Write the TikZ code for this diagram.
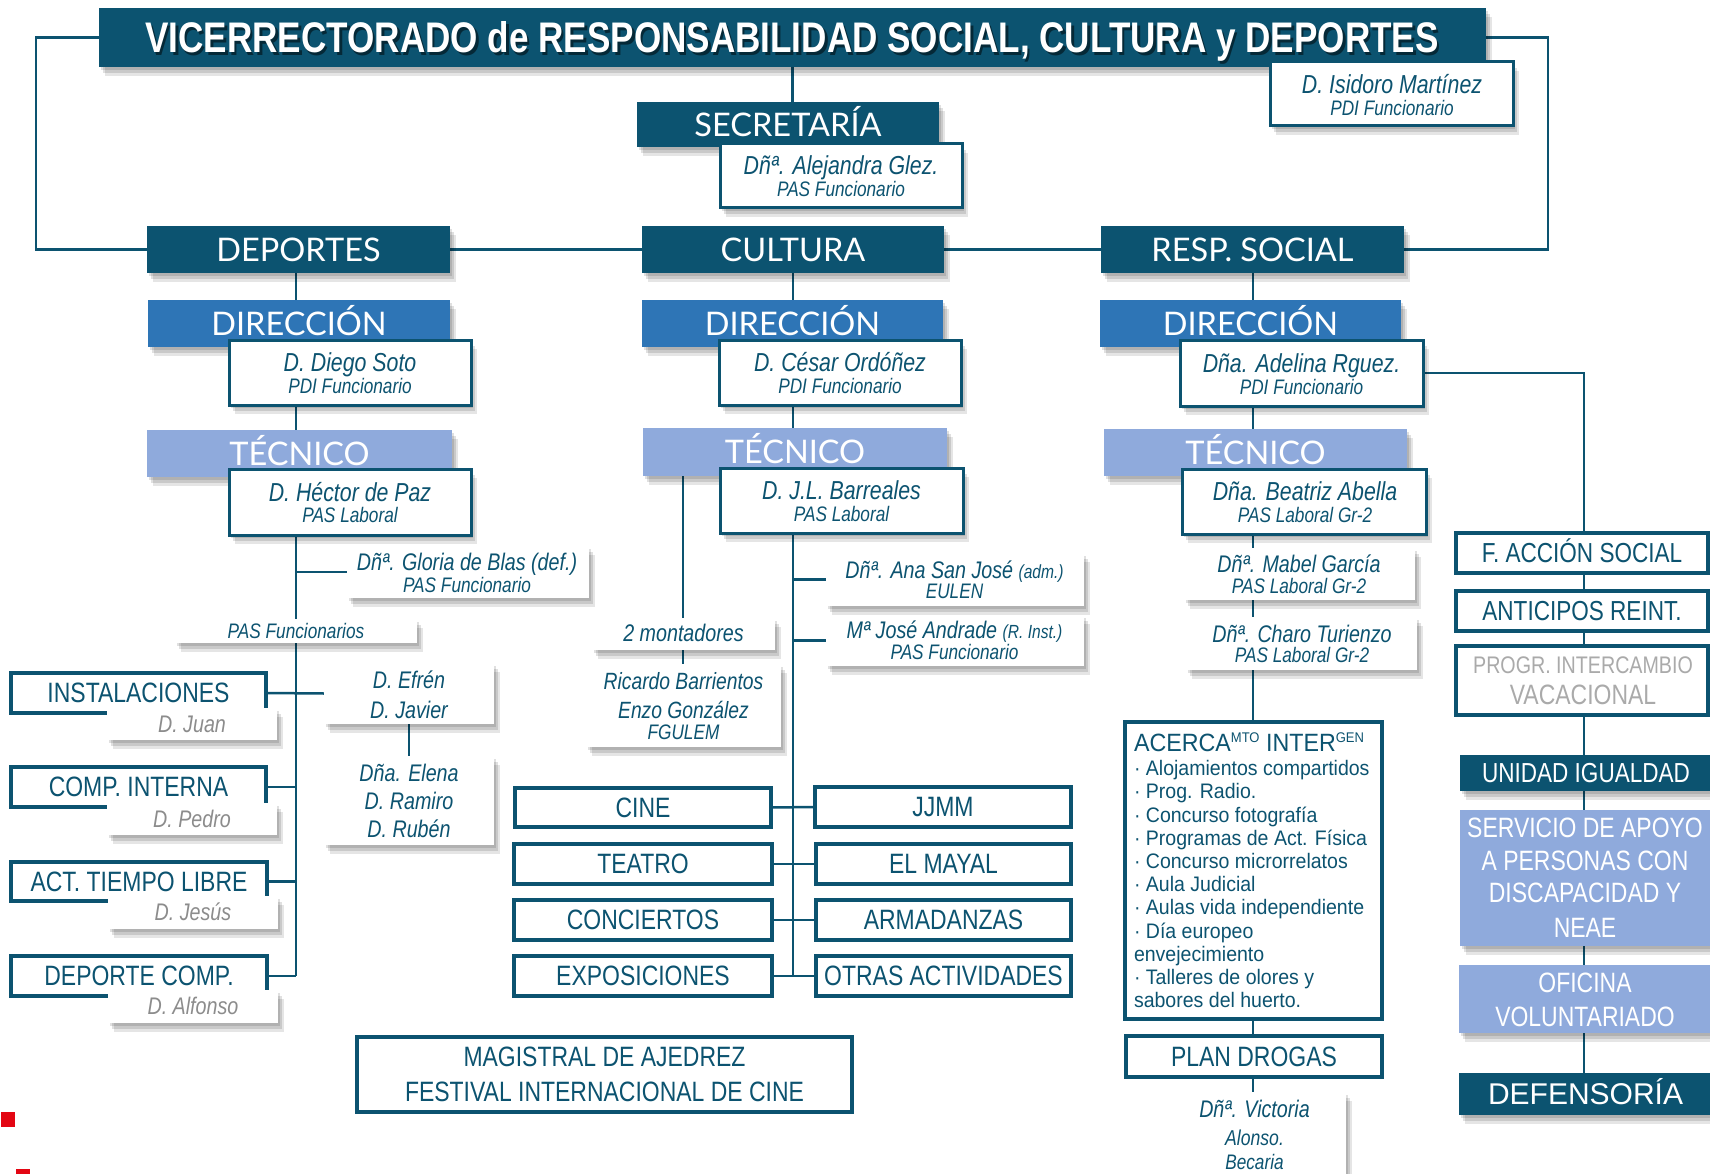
\documentclass[tikz,border=0pt]{standalone}
\usepackage{fontspec}
\setmainfont{Liberation Sans}
\newfontfamily\nar{Liberation Sans}[FakeStretch=0.82]
\newfontfamily\semi{Liberation Sans}[FakeStretch=0.93]
\newfontfamily\hdrf{Lato}
\usetikzlibrary{shadows}
\definecolor{dk}{RGB}{12,83,112}
\definecolor{mid}{RGB}{46,117,182}
\definecolor{lt}{RGB}{143,170,220}
\definecolor{gtx}{RGB}{140,140,140}
\definecolor{gtx2}{RGB}{170,170,170}
\definecolor{red1}{RGB}{227,6,19}
\pgfdeclarelayer{bg}
\pgfsetlayers{bg,main}
\tikzset{
  conn/.style={draw=dk, line width=2.5pt},
  shad/.style={drop shadow={shadow xshift=2pt, shadow yshift=-3pt, fill=black, opacity=0.12},
               drop shadow={shadow xshift=4pt, shadow yshift=-6pt, fill=black, opacity=0.12},
               drop shadow={shadow xshift=6pt, shadow yshift=-9pt, fill=black, opacity=0.10}},
  bx/.style 2 args={minimum width=#1pt, minimum height=#2pt, inner sep=0pt, outer sep=0pt},
  tx/.style={inner sep=0pt, outer sep=0pt, text=dk, text depth=0pt},
  nm/.style={tx, font=\nar\itshape\fontsize{26}{26}\selectfont, text height=17.9pt},
  st/.style={tx, font=\nar\itshape\fontsize{24}{24}\selectfont, text height=16.5pt},
  sb/.style={tx, font=\nar\itshape\fontsize{21}{21}\selectfont, text height=14.4pt},
  gy/.style={st, text=gtx},
  it/.style={tx, font=\nar\fontsize{28}{28}\selectfont, text height=19.3pt},
  wt/.style={it, text=white},
  hdr/.style={fill=dk, text=white, font=\hdrf\fontsize{32.5}{32.5}\selectfont, text height=23.3pt, text depth=0pt, shad},
  dirbox/.style={hdr, fill=mid},
  tecbox/.style={hdr, fill=lt},
  pbox/.style={fill=white, draw=dk, line width=3pt, shad},
  sbox/.style={fill=white, shad},
  ibox/.style={fill=white, draw=dk, line width=3.5pt, it},
}
\begin{document}
\begin{tikzpicture}[x=1pt,y=-1pt]
\useasboundingbox (0,0) rectangle (1710,1174);
\clip (0,0) rectangle (1710,1174);

\coordinate (cxD) at (296,0);
\coordinate (cxC) at (793,0);
\coordinate (cxR) at (1253,0);
\coordinate (cxM) at (683,0);
\coordinate (cxS) at (1584,0);
\coordinate (lbx) at (36,0);
\coordinate (rbx) at (1548,0);

% ---------- title
\node[bx={1387}{59}, fill=dk, shad] (title) at (792.5,37.5) {};
\node[tx, text=black, opacity=0.5, font=\nar\bfseries\fontsize{42.8}{42.8}\selectfont, text height=29.4pt] (titsh) at (794.5,40.5) {VICERRECTORADO de RESPONSABILIDAD SOCIAL, CULTURA y DEPORTES};
\node[tx, text=white, font=\nar\bfseries\fontsize{42.8}{42.8}\selectfont, text height=29.4pt] (tittx) at (792,38.3) {VICERRECTORADO de RESPONSABILIDAD SOCIAL, CULTURA y DEPORTES};

\node[bx={243}{64}, pbox] (isid) at (1391.5,94) {};
\node[nm] (isid1) at (1392,85) {D. Isidoro Martínez};
\node[sb] (isid2) at (1392,108.5) {PDI Funcionario};

\node[bx={302}{45}, hdr] (secr) at (788,124.5) {SECRETARÍA};
\node[bx={242}{64}, pbox] (alej) at (841,176) {};
\node[nm] (alej1) at (841,166) {Dñª. Alejandra Glez.};
\node[sb] (alej2) at (841,189.5) {PAS Funcionario};

% ---------- main areas
\node[bx={303}{47}, hdr] (dep) at (298.5,249.5) {DEPORTES};
\node[bx={302}{47}, hdr] (cul) at (793,249.5) {CULTURA};
\node[bx={303}{47}, hdr] (resp) at (1252.5,249.5) {RESP. SOCIAL};

\node[bx={302}{47}, dirbox] (depdir) at (299,323.5) {DIRECCIÓN};
\node[bx={301}{47}, dirbox] (culdir) at (792.5,323.5) {DIRECCIÓN};
\node[bx={301}{47}, dirbox] (resdir) at (1250.5,323.5) {DIRECCIÓN};

\node[bx={242}{65}, pbox] (diego) at (350,372.5) {};
\node[nm] (diego1) at (350,363) {D. Diego Soto};
\node[sb] (diego2) at (350,386.5) {PDI Funcionario};
\node[bx={242}{65}, pbox] (cesar) at (840,372.5) {};
\node[nm] (cesar1) at (840,363) {D. César Ordóñez};
\node[sb] (cesar2) at (840,386.5) {PDI Funcionario};
\node[bx={243}{66}, pbox] (adelina) at (1301.5,373) {};
\node[nm] (adel1) at (1301.5,364) {Dña. Adelina Rguez.};
\node[sb] (adel2) at (1301.5,387.5) {PDI Funcionario};

\node[bx={305}{47}, tecbox] (deptec) at (299.5,453.5) {TÉCNICO};
\node[bx={304}{48}, tecbox] (cultec) at (795,452) {TÉCNICO};
\node[bx={303}{47}, tecbox] (restec) at (1255.5,452.5) {TÉCNICO};

\node[bx={242}{66}, pbox] (hector) at (350,502) {};
\node[nm] (hect1) at (350,492.5) {D. Héctor de Paz};
\node[sb] (hect2) at (350,515.5) {PAS Laboral};
\node[bx={243}{65}, pbox] (barreales) at (841.5,500.5) {};
\node[nm] (barr1) at (841.5,491) {D. J.L. Barreales};
\node[sb] (barr2) at (841.5,514.5) {PAS Laboral};
\node[bx={244}{65}, pbox] (beatriz) at (1304,501.5) {};
\node[nm] (beat1) at (1305,492) {Dña. Beatriz Abella};
\node[sb] (beat2) at (1305,515.5) {PAS Laboral Gr-2};

% ---------- deportes column
\node[bx={242}{52}, sbox] (gloria) at (468,572) {};
\node[st] (glo1) at (467,562.5) {Dñª. Gloria de Blas (def.)};
\node[sb] (glo2) at (467,585) {PAS Funcionario};
\node[bx={242}{24}, sbox, sb] (pasf) at (296,631) {PAS Funcionarios};

\node[bx={255}{40}, ibox] (instal) at (138.5,693) {INSTALACIONES};
\node[bx={170}{32}, sbox, gy] (juan) at (192,724) {D. Juan};
\node[bx={255}{40}, ibox] (compint) at (138.5,787) {COMP. INTERNA};
\node[bx={170}{32}, sbox, gy] (pedro) at (192,819) {D. Pedro};
\node[bx={256}{39}, ibox] (actl) at (139,881.5) {ACT. TIEMPO LIBRE};
\node[bx={170}{33}, sbox, gy] (jesus) at (193,912) {D. Jesús};
\node[bx={256}{40}, ibox] (depcomp) at (139,976) {DEPORTE COMP.};
\node[bx={170}{33}, sbox, gy] (alfonso) at (193,1006) {D. Alfonso};

\node[bx={170}{61}, sbox] (efren) at (409,693.5) {};
\node[st] (efr1) at (409,680.5) {D. Efrén};
\node[st] (efr2) at (409,710) {D. Javier};
\node[bx={170}{89}, sbox] (elena) at (409,800.5) {};
\node[st] (ele1) at (409,773) {Dña. Elena};
\node[st] (ele2) at (409,801.5) {D. Ramiro};
\node[st] (ele3) at (409,829.5) {D. Rubén};

\node[bx={495}{75}, ibox] (magis) at (604.5,1074.5) {};
\node[it] (mag1) at (604.5,1057) {MAGISTRAL DE AJEDREZ};
\node[it] (mag2) at (604.5,1092) {FESTIVAL INTERNACIONAL DE CINE};

% ---------- cultura column
\node[bx={183}{32}, sbox, st] (mont) at (683.5,633.5) {2 montadores};
\node[bx={195}{83}, sbox] (ricardo) at (683.5,705.5) {};
\node[st, font=\nar\itshape\fontsize{23.5}{23.5}\selectfont] (ric1) at (683.5,681) {Ricardo Barrientos};
\node[st, font=\nar\itshape\fontsize{23.5}{23.5}\selectfont] (ric2) at (683.5,710) {Enzo González};
\node[sb] (ric3) at (683.5,732) {FGULEM};

\node[bx={258}{53}, sbox] (ana) at (955,579.5) {};
\node[st] (ana1) at (954.5,570) {Dñª. Ana San José {\fontsize{19}{19}\selectfont(adm.)}};
\node[sb] (ana2) at (954.5,591.5) {EULEN};
\node[bx={258}{51}, sbox] (andrade) at (955,640.5) {};
\node[st] (and1) at (954.5,630) {Mª José Andrade {\fontsize{19}{19}\selectfont(R. Inst.)}};
\node[sb] (and2) at (954.5,652.5) {PAS Funcionario};

\node[bx={256}{39}, ibox] (cine) at (643,807.5) {CINE};
\node[bx={256}{40}, ibox] (jjmm) at (943,807) {JJMM};
\node[bx={258}{40}, ibox] (teatro) at (643,864) {TEATRO};
\node[bx={255}{40}, ibox] (mayal) at (943.5,864) {EL MAYAL};
\node[bx={258}{40}, ibox] (conc) at (643,920) {CONCIERTOS};
\node[bx={255}{40}, ibox] (armad) at (943.5,920) {ARMADANZAS};
\node[bx={258}{40}, ibox] (expo) at (643,976) {EXPOSICIONES};
\node[bx={255}{40}, ibox] (otras) at (943.5,976) {OTRAS ACTIVIDADES};

% ---------- resp. social column
\node[bx={231}{52}, sbox] (mabel) at (1299.5,574) {};
\node[st] (mab1) at (1299,564.5) {Dñª. Mabel García};
\node[sb] (mab2) at (1299,586.5) {PAS Laboral Gr-2};
\node[bx={231}{53}, sbox] (charo) at (1301.5,643.5) {};
\node[st] (cha1) at (1302,634) {Dñª. Charo Turienzo};
\node[sb] (cha2) at (1302,655.5) {PAS Laboral Gr-2};

\node[bx={257}{297}, ibox] (acerca) at (1253.5,870.5) {};
\node[inner sep=0pt, outer sep=0pt, anchor=north west, align=left, text=dk, font=\semi\fontsize{21}{23.2}\selectfont] (acertxt) at (1134,732.5)
 {{\fontsize{25}{25}\selectfont ACERCA\raisebox{9pt}{\fontsize{14}{14}\selectfont MTO} INTER\raisebox{9pt}{\fontsize{14}{14}\selectfont GEN}}\\[1.3pt]
  · Alojamientos compartidos\\
  · Prog. Radio.\\
  · Concurso fotografía\\
  · Programas de Act. Física\\
  · Concurso microrrelatos\\
  · Aula Judicial\\
  · Aulas vida independiente\\
  · Día europeo\\
  envejecimiento\\
  · Talleres de olores y\\
  sabores del huerto.};

\node[bx={256}{41}, ibox] (plan) at (1254,1056.5) {PLAN DROGAS};
\node[bx={182}{108}, sbox] (victoria) at (1255,1146) {};
\node[st] (vic1) at (1254.5,1109) {Dñª. Victoria};
\node[sb, font=\nar\itshape\fontsize{21.5}{21.5}\selectfont] (vic2) at (1254.5,1138) {Alonso.};
\node[sb] (vic3) at (1254.5,1162) {Becaria};

% ---------- right column
\node[bx={252}{40}, ibox, font=\nar\fontsize{27.5}{27.5}\selectfont] (faccion) at (1582,553) {F. ACCIÓN SOCIAL};
\node[bx={252}{40}, ibox, font=\nar\fontsize{27.5}{27.5}\selectfont] (anticipos) at (1582,611) {ANTICIPOS REINT.};
\node[bx={252}{69}, ibox] (progr) at (1582,680.5) {};
\node[it, text=gtx2, font=\nar\fontsize{24}{24}\selectfont, text height=16.5pt] (prog1) at (1583,665) {PROGR. INTERCAMBIO};
\node[it, text=gtx2] (prog2) at (1583,695) {VACACIONAL};
\node[bx={252}{36}, fill=dk, shad, wt, font=\nar\fontsize{27.5}{27.5}\selectfont] (unidad) at (1586,773) {UNIDAD IGUALDAD};
\node[bx={252}{136}, fill=lt, shad] (servicio) at (1586,878) {};
\node[wt] (serv1) at (1585,828) {SERVICIO DE APOYO};
\node[wt] (serv2) at (1585,861) {A PERSONAS CON};
\node[wt] (serv3) at (1585,893) {DISCAPACIDAD Y};
\node[wt] (serv4) at (1585,928) {NEAE};
\node[bx={253}{68}, fill=lt, shad] (oficina) at (1585.5,999) {};
\node[wt] (ofi1) at (1585,983) {OFICINA};
\node[wt] (ofi2) at (1585,1017) {VOLUNTARIADO};
\node[bx={253}{42}, fill=dk, shad, wt, font=\fontsize{30}{30}\selectfont, text height=20.6pt] (defens) at (1585.5,1094) {DEFENSORÍA};

\fill[red1] (1,1112) rectangle (15,1127);
\fill[red1] (16,1169) rectangle (30,1180);

% ---------- connectors
\begin{pgfonlayer}{bg}
\draw[conn] (title.south) -- (title.south |- secr.north);
\draw[conn] (title.west) -- (title.west -| lbx) |- (dep.west);
\draw[conn] (title.east) -- (title.east -| rbx) |- (resp.east);
\draw[conn] (dep.east) -- (cul.west);
\draw[conn] (cul.east) -- (resp.west);
% deportes
\draw[conn] (dep.south -| cxD) -- (depdir.north -| cxD);
\draw[conn] (diego.south -| cxD) -- (deptec.north -| cxD);
\draw[conn] (hector.south -| cxD) -- (depcomp.east -| cxD);
\draw[conn] (gloria.west) -- (gloria.west -| cxD);
\draw[conn] (instal.east) -- (efren.west);
\draw[conn] (compint.east) -- (compint.east -| cxD);
\draw[conn] (actl.east) -- (actl.east -| cxD);
\draw[conn] (depcomp.east) -- (depcomp.east -| cxD);
\draw[conn] (efren.south) -- (elena.north);
% cultura
\draw[conn] (cul.south -| cxC) -- (culdir.north -| cxC);
\draw[conn] (cesar.south -| cxC) -- (cultec.north -| cxC);
\draw[conn] (barreales.south -| cxC) -- (expo.east -| cxC);
\draw[conn] (ana.west) -- (ana.west -| cxC);
\draw[conn] (andrade.west) -- (andrade.west -| cxC);
\draw[conn] (cine.east) -- (jjmm.west);
\draw[conn] (teatro.east) -- (mayal.west);
\draw[conn] (conc.east) -- (armad.west);
\draw[conn] (expo.east) -- (otras.west);
\draw[conn] (cultec.south -| cxM) -- (mont.north -| cxM);
\draw[conn] (mont.south -| cxM) -- (ricardo.north -| cxM);
% resp. social
\draw[conn] (resp.south -| cxR) -- (resdir.north -| cxR);
\draw[conn] (adelina.south -| cxR) -- (restec.north -| cxR);
\draw[conn] (beatriz.south -| cxR) -- (mabel.north -| cxR);
\draw[conn] (mabel.south -| cxR) -- (charo.north -| cxR);
\draw[conn] (charo.south -| cxR) -- (acerca.north -| cxR);
\draw[conn] (acerca.south -| cxR) -- (plan.north -| cxR);
\draw[conn] (plan.south -| cxR) -- (victoria.north -| cxR);
\draw[conn] (adelina.east) -| (faccion.north -| cxS);
\draw[conn] (faccion.south -| cxS) -- (anticipos.north -| cxS);
\draw[conn] (anticipos.south -| cxS) -- (progr.north -| cxS);
\draw[conn] (progr.south -| cxS) -- (unidad.north -| cxS);
\draw[conn] (unidad.south -| cxS) -- (servicio.north -| cxS);
\draw[conn] (servicio.south -| cxS) -- (oficina.north -| cxS);
\draw[conn] (oficina.south -| cxS) -- (defens.north -| cxS);
\end{pgfonlayer}
\end{tikzpicture}
\end{document}
